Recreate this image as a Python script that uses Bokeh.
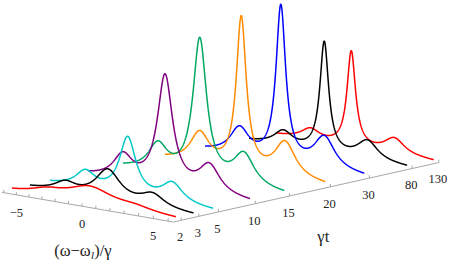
import numpy as np
from bokeh.plotting import figure
from bokeh.models import Range1d, ColumnDataSource
from bokeh.embed import file_html
from bokeh.resources import INLINE
from bokeh.core.properties import value

# ---------------- data ----------------
gamma_t = [2, 3, 5, 10, 15, 20, 30, 80, 130]
gamma_t_labels = ["2", "3", "5", "10", "15", "20", "30", "80", "130"]
# where each spectrum sits along the (non-uniform) γt axis
depth_slot = [0.0, 0.925, 1.955, 3.89, 5.69, 7.84, 9.89, 12.14, 13.54]
# spectrum = central line + two Rabi sidebands (heights in intensity units)
center_height = [17.5, 31.0, 59.8, 115.9, 146.5, 160.4, 164.8, 118.1, 102.4]
center_width = [2.0, 1.1, 0.73, 0.68, 0.61, 0.45, 0.44, 0.40, 0.39]
side_left = [5.5, 10.0, 17.1, 25.0, 28.5, 32.0, 28.3, 15.5, 11.8]
side_right = [4.0, 13.0, 20.1, 29.1, 32.9, 37.0, 33.8, 20.5, 17.0]
side_width = [1.5, 1.0, 0.9, 0.9, 0.9, 0.9, 0.9, 0.9, 0.9]
rabi_split = 3.2
omega_span = (-6.0, 6.0)
omega_axis = (-6.15, 6.35)
omega_ticks = list(range(-6, 7))
omega_tick_labels = {-5: "\u22125", 0: "0", 5: "5"}
colors = ["#ff0000", "#000000", "#00c8c8", "#800080", "#00a862",
          "#ff8a00", "#0000ff", "#000000", "#ff0000"]

# ---------------- view (3D -> 2D) ----------------
OX, OY = 94.2, 216.4
UX, UY = 14.17, 2.45
VX, VY = 20.0, -4.37
WARP = 0.008
SHRINK = 0.003
D_FRONT = -0.41
K = 0.965  # fit to page
FONT = "Liberation Serif"


def proj(w, d, z):
    w = np.asarray(w, dtype=float)
    s = 1 - SHRINK * d
    f = w * (1 + WARP * w)
    x = OX + VX * d + s * UX * f
    y = OY + VY * d + s * (UY * f - z)
    return x, y


def lor(w, c, g):
    return g ** 2 / ((w - c) ** 2 + g ** 2)


def spectrum(i, w):
    return (center_height[i] * lor(w, 0, center_width[i])
            + side_left[i] * lor(w, -rabi_split, side_width[i])
            + side_right[i] * lor(w, rabi_split, side_width[i]))


p = figure(width=447, height=262, title=None,
           x_axis_type=None, y_axis_type=None,
           x_range=Range1d(1.5, 1.5 + 447 / K), y_range=Range1d(5 + 262 / K, 5),
           output_backend="svg", toolbar_location=None, min_border=0)
p.grid.visible = False
p.outline_line_color = None
p.background_fill_color = "white"
p.border_fill_color = "white"

axis_col = "#a8a8a8"
# front (omega) axis
xa, ya = proj(np.array(omega_axis), D_FRONT, 0)
p.line(xa, ya, line_color=axis_col, line_width=1)
# depth (gamma t) axis
d_end = depth_slot[-1]
xs0, ys0 = proj(omega_axis[1], D_FRONT, 0)
xs1, ys1 = proj(omega_axis[1], d_end, 0)
p.line([float(xs0), float(xs1)], [float(ys0), float(ys1)], line_color=axis_col, line_width=1)

# ticks
tx, ty = proj(np.array(omega_ticks, dtype=float), D_FRONT, 0)
p.segment(tx, ty, tx, ty - 3, line_color=axis_col, line_width=1)
dx = []
dy = []
for d in depth_slot:
    x, y = proj(omega_axis[1], d, 0)
    dx.append(float(x))
    dy.append(float(y))
dx = np.array(dx)
dy = np.array(dy)
p.segment(dx, dy, dx, dy - 3, line_color=axis_col, line_width=1)

# curves (far first)
w = np.linspace(omega_span[0], omega_span[1], 801)
for i in reversed(range(len(gamma_t))):
    x, y = proj(w, depth_slot[i], spectrum(i, w))
    p.line(x, y, line_color=colors[i], line_width=1.5)

# tick labels
lab_w = [t for t in omega_ticks if t in omega_tick_labels]
lx, ly = proj(np.array(lab_w, dtype=float), D_FRONT, 0)
src = ColumnDataSource(dict(x=lx, y=ly + 18.5, t=[omega_tick_labels[t] for t in lab_w]))
p.text("x", "y", text="t", source=src, text_font=value(FONT), text_font_size="12.5px",
       text_align="center", text_baseline="middle", text_color="#222222")
src2 = ColumnDataSource(dict(x=dx - 1.0, y=dy + 17.5, t=gamma_t_labels))
p.text("x", "y", text="t", source=src2, text_font=value(FONT), text_font_size="12.5px",
       text_align="center", text_baseline="middle", text_color="#222222")

# axis titles
xa_t = 95.0
p.text([xa_t], [264], text=["(\u03c9\u2212\u03c9"], text_font=value(FONT), text_font_size="16.5px",
       text_align="right", text_baseline="middle", text_color="#222222")
p.text([xa_t + 0.3], [268.5], text=["l"], text_font=value(FONT), text_font_size="11px",
       text_font_style="italic", text_align="left", text_baseline="middle", text_color="#222222")
p.text([xa_t + 3.6], [264], text=[")/\u03b3"], text_font=value(FONT), text_font_size="16.5px",
       text_align="left", text_baseline="middle", text_color="#222222")
p.text([336], [250], text=["\u03b3t"], text_font=value(FONT), text_font_size="16.5px",
       text_align="center", text_baseline="middle", text_color="#222222")

open("out.html", "w").write(file_html(p, INLINE))
